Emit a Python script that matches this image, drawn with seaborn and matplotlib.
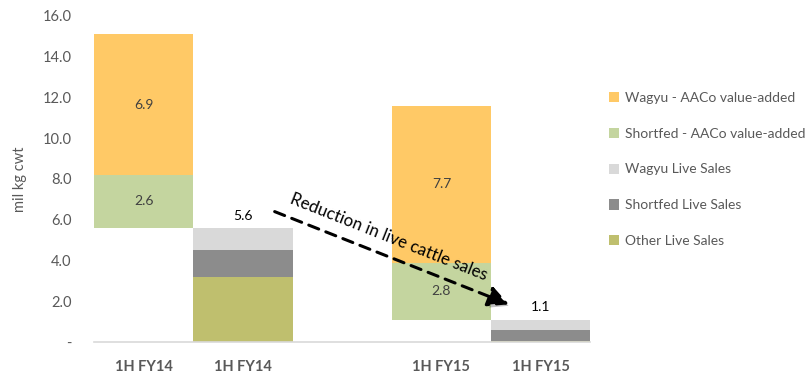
import matplotlib
matplotlib.use("Agg")
import matplotlib.pyplot as plt
import matplotlib.patheffects as pe
from matplotlib.patches import Patch
import numpy as np
import pandas as pd
import seaborn as sns

# Category slots (the middle slot is an empty spacer)
slot_labels = ["1H FY14", "1H FY14", "", "1H FY15", "1H FY15"]
va_slots = [0, 3]        # value-added bars (floating on top of live sales total)
live_slots = [1, 4]      # live sales bars

# Value-added (mil kg cwt)
shortfed_va = [2.6, 2.8]
wagyu_va = [6.9, 7.7]

# Live cattle sales (mil kg cwt)
other_live = [3.2, 0.05]
shortfed_live = [1.3, 0.55]
wagyu_live = [1.1, 0.5]
live_totals = [5.6, 1.1]

series_names = ["Wagyu - AACo value-added", "Shortfed - AACo value-added",
                "Wagyu Live Sales", "Shortfed Live Sales", "Other Live Sales"]
colors = {
    "Wagyu - AACo value-added": "#FFC966",
    "Shortfed - AACo value-added": "#C4D59F",
    "Wagyu Live Sales": "#D9D9D9",
    "Shortfed Live Sales": "#8C8C8C",
    "Other Live Sales": "#BFBF6E",
}

sns.set_theme(style="white")
plt.rcParams["font.family"] = ["Lato", "DejaVu Sans"]

fig = plt.figure(figsize=(8.11, 3.77), dpi=100)
ax = fig.add_axes([0.1159, 0.0928, 0.612, 0.8648])

# Per-series heights and bottoms for every slot (zero where a series is absent)
n_slots = len(slot_labels)
heights = {n: np.zeros(n_slots) for n in series_names}
bottoms = {n: np.zeros(n_slots) for n in series_names}
for i in range(2):
    b = 0.0
    for name, vals in [("Other Live Sales", other_live),
                       ("Shortfed Live Sales", shortfed_live),
                       ("Wagyu Live Sales", wagyu_live)]:
        heights[name][live_slots[i]] = vals[i]
        bottoms[name][live_slots[i]] = b
        b += vals[i]
    b = live_totals[i]
    for name, vals in [("Shortfed - AACo value-added", shortfed_va),
                       ("Wagyu - AACo value-added", wagyu_va)]:
        heights[name][va_slots[i]] = vals[i]
        bottoms[name][va_slots[i]] = b
        b += vals[i]

slot_keys = [f"s{k}" for k in range(n_slots)]
for name in series_names:
    d = pd.DataFrame({"slot": slot_keys, "height": heights[name]})
    sns.barplot(data=d, x="slot", y="height", order=slot_keys,
                bottom=bottoms[name], width=1.0, color=colors[name],
                saturation=1, linewidth=0, errorbar=None, ax=ax)

# Value labels inside value-added segments and above live totals
for i in range(2):
    x = va_slots[i]
    y0 = live_totals[i]
    ax.text(x, y0 + shortfed_va[i] / 2, f"{shortfed_va[i]:.1f}", ha="center",
            va="center", fontsize=10, color="#404040")
    ax.text(x, y0 + shortfed_va[i] + wagyu_va[i] / 2, f"{wagyu_va[i]:.1f}",
            ha="center", va="center", fontsize=10, color="#404040")
    ax.text(live_slots[i], live_totals[i] + 0.3, f"{live_totals[i]:.1f}",
            ha="center", va="bottom", fontsize=10, color="#000000")

# Axes styling
ax.set_xlim(-0.5, 4.5)
ax.set_ylim(0, 16)
ax.set_xticks(range(n_slots))
ax.set_xticklabels(slot_labels, fontweight="bold", fontsize=10.5, color="#595959")
yticks = np.arange(0, 17, 2)
ax.set_yticks(yticks)
ax.set_yticklabels(["-"] + [f"{v:.1f}" for v in yticks[1:]], fontsize=10.5,
                   color="#595959")
ax.tick_params(axis="x", length=0, pad=13)
ax.tick_params(axis="y", length=0, pad=16)
ax.set_xlabel("")
ax.set_ylabel("mil kg cwt", fontsize=10.5, color="#595959", labelpad=11)
for s in ["top", "right", "left"]:
    ax.spines[s].set_visible(False)
ax.spines["bottom"].set_color("#D9D9D9")
ax.spines["bottom"].set_linewidth(1.2)
ax.grid(False)

# Trend arrow
shadow = [pe.SimplePatchShadow(offset=(2, -2), alpha=0.25), pe.Normal()]
ax.annotate("", xy=(3.68, 1.85), xytext=(1.32, 6.4),
            arrowprops=dict(arrowstyle="-|>,head_length=0.9,head_width=0.45",
                            linestyle=(0, (3.5, 2.5)), lw=2.2, color="black",
                            shrinkA=0, shrinkB=0, mutation_scale=14,
                            path_effects=shadow))
ax.text(2.47, 5.15, "Reduction in live cattle sales", rotation=-21.6,
        rotation_mode="anchor", ha="center", va="center", fontsize=12.2,
        color="black")

# Legend
handles = [Patch(facecolor=colors[n], edgecolor="none", label=n) for n in series_names]
fig.legend(handles=handles, loc="upper left", bbox_to_anchor=(0.735, 0.79),
           frameon=False, fontsize=10, labelcolor="#595959",
           handlelength=0.75, handleheight=0.75, handletextpad=0.4,
           labelspacing=1.72)

fig.savefig("out.png", dpi=100)
